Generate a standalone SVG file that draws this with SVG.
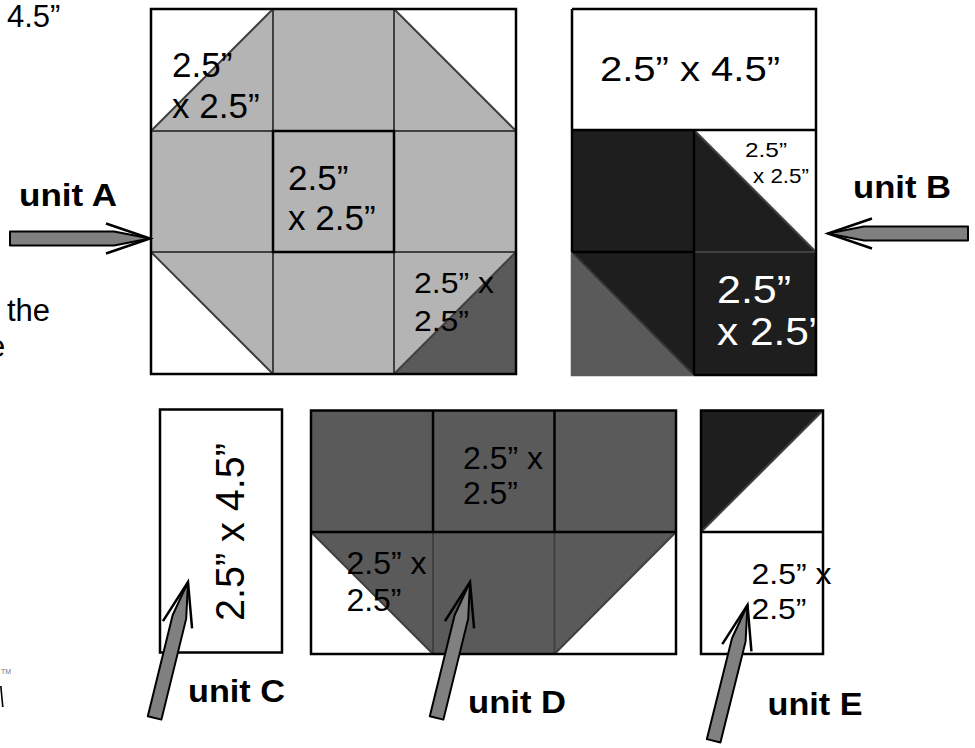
<svg xmlns="http://www.w3.org/2000/svg" width="975" height="748" viewBox="0 0 975 748">
<style>
text{font-family:"Liberation Sans",Arial,Helvetica,sans-serif;fill:#000}
.b{font-weight:bold;font-size:31px}
.w{fill:#fff}
.ol{fill:none;stroke:#000;stroke-width:2.5}
.gl{fill:none;stroke:#404040;stroke-width:2}
.bl{fill:none;stroke:#000;stroke-width:2.5}
.lg{fill:#b4b4b4}
.dg{fill:#5a5a5a}
.bk{fill:#1e1e1e}
.wh{fill:#fff}
</style>
<defs>
<g id="arr">
<polygon points="-140,-7 -36,-7 0,0 -36,7 -140,7" fill="#808080" stroke="#000" stroke-width="2" stroke-linejoin="round"/>
<polyline points="-44,-15 0,0 -44,15" fill="none" stroke="#000" stroke-width="2.5" stroke-linejoin="miter"/>
</g>
</defs>
<rect width="975" height="748" fill="#fff"/>

<g id="edge-text">
<text x="7" y="27" font-size="31">4.5”</text>
<text x="7" y="321" font-size="31">the</text>
<text x="-12" y="357" font-size="31">e</text>
<text x="1" y="674" font-size="7" style="fill:#777">TM</text>
<polygon points="0,686 1.6,686 3.6,707 2,707" fill="#000"/>
</g>

<g id="unitA">
<rect x="151" y="9" width="365" height="365" class="wh"/>
<polygon class="lg" points="273,9 394,9 516,131 516,252 394,374 273,374 151,252 151,131"/>
<polygon class="dg" points="394,374 516,252 516,374"/>
<path class="gl" d="M273,9V374M394,9V374M151,131H516M151,252H516M151,131L273,9M394,9L516,131M151,252L273,374M394,374L516,252"/>
<rect class="bl" x="273" y="131" width="121" height="121"/>
<rect class="ol" x="151" y="9" width="365" height="365"/>
<text x="172" y="77" font-size="35">2.5”</text>
<text x="172" y="118" font-size="35">x 2.5”</text>
<text x="288" y="190" font-size="35">2.5”</text>
<text x="288" y="230" font-size="35">x 2.5”</text>
<text x="414" y="293" font-size="30" textLength="80" lengthAdjust="spacingAndGlyphs">2.5” x</text>
<text x="414" y="331" font-size="30" textLength="55" lengthAdjust="spacingAndGlyphs">2.5”</text>
<text class="b" x="19" y="206" textLength="98" lengthAdjust="spacingAndGlyphs">unit A</text>
</g>

<g id="unitB">
<rect x="572" y="9" width="244" height="121" class="wh"/>
<rect x="572" y="130" width="122" height="122" class="bk"/>
<rect x="694" y="130" width="122" height="122" class="wh"/>
<polygon class="bk" points="694,130 816,252 694,252"/>
<rect x="572" y="252" width="122" height="123" class="dg"/>
<polygon class="bk" points="572,252 694,252 694,375"/>
<rect x="694" y="252" width="122" height="123" class="bk"/>
<text x="600" y="81" font-size="35" textLength="180" lengthAdjust="spacingAndGlyphs">2.5” x 4.5”</text>
<text x="745" y="157" font-size="21" textLength="42" lengthAdjust="spacingAndGlyphs">2.5”</text>
<text x="753" y="183" font-size="21" textLength="56" lengthAdjust="spacingAndGlyphs">x 2.5”</text>
<text class="w" x="717" y="303" font-size="39" textLength="74" lengthAdjust="spacingAndGlyphs">2.5”</text>
<text class="w" x="717" y="345" font-size="39" textLength="106" lengthAdjust="spacingAndGlyphs">x 2.5”</text>
<path class="gl" d="M694,130L816,252M694,252H816"/>
<path d="M572,252L694,375" fill="none" stroke="#333" stroke-width="2"/>
<path d="M572,252V375H694" fill="none" stroke="#5a5a5a" stroke-width="2.5"/>
<path class="bl" d="M572,130H816M694,130V375M572,252H694M572,252V130M572,9H816V375H694M572,9V130"/>
<text class="b" x="853" y="198" textLength="98" lengthAdjust="spacingAndGlyphs">unit B</text>
</g>

<g id="unitC">
<rect class="ol" x="160" y="409.5" width="122" height="243" style="fill:#fff"/>
<text transform="translate(243.5,621) rotate(-90)" x="0" y="0" font-size="40" textLength="178" lengthAdjust="spacingAndGlyphs">2.5” x 4.5”</text>
<text class="b" x="188" y="702" textLength="97" lengthAdjust="spacingAndGlyphs">unit C</text>
</g>

<g id="unitD">
<rect x="311" y="410.5" width="365" height="243.5" class="wh"/>
<polygon class="dg" points="311,410.5 676,410.5 676,532 554.5,654 433,654 311,532"/>
<path class="gl" d="M433,532V654M554.5,532V654M311,532L433,654M676,532L554.5,654"/>
<path class="bl" d="M433,410.5V532M554.5,410.5V532M311,532H676"/>
<rect class="ol" x="311" y="410.5" width="365" height="243.5"/>
<text x="463" y="468.5" font-size="31" textLength="80" lengthAdjust="spacingAndGlyphs">2.5” x</text>
<text x="463" y="503.5" font-size="31" textLength="55" lengthAdjust="spacingAndGlyphs">2.5”</text>
<text x="346.5" y="573.5" font-size="31" textLength="80" lengthAdjust="spacingAndGlyphs">2.5” x</text>
<text x="346.5" y="610.5" font-size="31" textLength="55" lengthAdjust="spacingAndGlyphs">2.5”</text>
<text class="b" x="468" y="713" textLength="98" lengthAdjust="spacingAndGlyphs">unit D</text>
</g>

<g id="unitE">
<rect x="701" y="410.5" width="122" height="243.5" class="wh"/>
<polygon class="bk" points="701,410.5 823,410.5 701,532"/>
<path class="gl" d="M701,532L823,410.5"/>
<path class="bl" d="M701,532H823"/>
<rect class="ol" x="701" y="410.5" width="122" height="243.5"/>
<text x="751.5" y="583.5" font-size="29" textLength="80" lengthAdjust="spacingAndGlyphs">2.5” x</text>
<text x="751.5" y="619" font-size="29" textLength="55" lengthAdjust="spacingAndGlyphs">2.5”</text>
<text class="b" x="767.5" y="715" textLength="95" lengthAdjust="spacingAndGlyphs">unit E</text>
</g>

<g id="connectors">
<use href="#arr" transform="translate(150,238.5)"/>
<use href="#arr" transform="translate(828,233.5) rotate(180)"/>
<use href="#arr" transform="translate(188,582) rotate(-76.2)"/>
<use href="#arr" transform="translate(470,582) rotate(-76.2)"/>
<use href="#arr" transform="translate(747.5,605) rotate(-76)"/>
</g>
</svg>
